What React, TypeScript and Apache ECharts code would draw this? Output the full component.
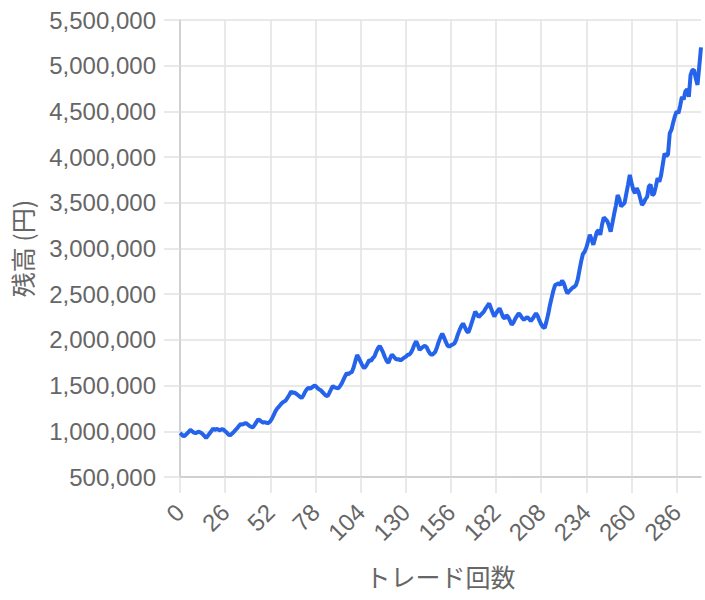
import React, { useEffect, useRef } from "react";
import * as echarts from "echarts";

// Balance after each trade, in thousands of yen (index 0..300)
const UNIT = 1000;
const balanceK: number[] = [
  980, 965, 945, 955, 975, 995, 1015, 1000, 985, 980, 990,
  995, 985, 970, 950, 928, 950, 975, 1000, 1030, 1015,
  1025, 1020, 1010, 1022, 1020, 1000, 985, 962, 958, 975,
  995, 1015, 1035, 1060, 1080, 1072, 1085, 1088, 1075, 1060,
  1048, 1045, 1070, 1100, 1130, 1120, 1105, 1095, 1100, 1090,
  1092, 1110, 1140, 1180, 1220, 1250, 1270, 1295, 1315, 1325,
  1340, 1370, 1400, 1435, 1420, 1425, 1410, 1395, 1380, 1365,
  1390, 1430, 1460, 1475, 1465, 1480, 1495, 1500, 1475, 1460,
  1450, 1430, 1410, 1390, 1385, 1420, 1460, 1495, 1480, 1475,
  1470, 1490, 1520, 1560, 1600, 1635, 1625, 1640, 1650, 1700,
  1770, 1835, 1800, 1760, 1720, 1690, 1710, 1745, 1780, 1770,
  1800, 1820, 1870, 1910, 1935, 1900, 1860, 1810, 1770, 1750,
  1800, 1840, 1820, 1795, 1785, 1790, 1775, 1790, 1805, 1815,
  1835, 1840, 1860, 1900, 1950, 1985, 1940, 1890, 1910, 1925,
  1935, 1920, 1880, 1850, 1835, 1850, 1870, 1920, 1980, 2030,
  2070, 2030, 1980, 1940, 1925, 1940, 1950, 1960, 2000, 2060,
  2110, 2150, 2180, 2140, 2100, 2080, 2130, 2190, 2250, 2310,
  2280, 2250, 2270, 2290, 2310, 2345, 2370, 2400, 2350, 2300,
  2255, 2290, 2320, 2345, 2300, 2250, 2235, 2270, 2250, 2210,
  2165, 2190, 2230, 2260, 2290, 2270, 2240, 2220, 2235, 2250,
  2230, 2205, 2230, 2260, 2290, 2260, 2210, 2170, 2140, 2130,
  2200, 2280, 2380, 2460, 2540, 2600, 2610, 2620, 2600, 2650,
  2620, 2560, 2510, 2530, 2550, 2570, 2580, 2600, 2660, 2760,
  2860, 2940, 2965, 3010, 3080, 3150, 3100, 3040, 3110, 3180,
  3200, 3150, 3260, 3340, 3320, 3300, 3250, 3185, 3280, 3380,
  3470, 3585, 3540, 3460, 3480, 3500, 3600, 3700, 3805, 3720,
  3640, 3605, 3660, 3620, 3550, 3475, 3500, 3540, 3565, 3680,
  3700, 3580, 3600, 3680, 3770, 3730, 3800, 3920, 4040, 4010,
  4030, 4260, 4300, 4380, 4450, 4500, 4480, 4560, 4660, 4630,
  4720, 4740, 4660, 4900, 4950, 4955, 4860, 4790, 4990, 5200,
];

const tradeLabels: string[] = balanceK.map((_, i) => String(i));
const balance: number[] = balanceK.map((v) => v * UNIT);

const Y_MIN = 500000;
const Y_MAX = 5500000;
const Y_STEP = 500000;
const X_LABEL_STEP = 26;

const FONT = "'Liberation Sans', Arial, Helvetica, sans-serif";
const CJK = "'Noto Sans CJK JP', 'Liberation Sans', sans-serif";
const TEXT = "#666666";
const GRID = "#e2e2e2";
const AXIS = "#c8c8c8";

export default function App() {
  const ref = useRef<HTMLDivElement>(null);
  useEffect(() => {
    if (!ref.current) return;
    const chart = echarts.init(ref.current, null, { renderer: "svg" });
    chart.setOption({
      animation: false,
      grid: { left: 180, right: 4, top: 20, bottom: 123, containLabel: false },
      xAxis: {
        type: "category",
        data: tradeLabels,
        boundaryGap: false,
        name: "トレード回数",
        nameLocation: "middle",
        nameGap: 86,
        nameTextStyle: { color: TEXT, fontSize: 25, fontFamily: CJK },
        axisLine: { show: true, lineStyle: { color: AXIS, width: 1.5 } },
        axisTick: { show: true, interval: X_LABEL_STEP - 1, length: 16, lineStyle: { color: GRID, width: 1.5 } },
        axisLabel: {
          interval: X_LABEL_STEP - 1,
          rotate: 45,
          margin: 31,
          color: TEXT,
          fontSize: 24,
          fontFamily: FONT,
        },
        splitLine: { show: true, interval: X_LABEL_STEP - 1, lineStyle: { color: GRID, width: 1.5 } },
      },
      yAxis: {
        type: "value",
        min: Y_MIN,
        max: Y_MAX,
        interval: Y_STEP,
        name: "残高 (円)",
        nameLocation: "middle",
        nameGap: 146,
        nameRotate: 90,
        nameTextStyle: { color: TEXT, fontSize: 25, fontFamily: CJK },
        axisLine: { show: true, lineStyle: { color: AXIS, width: 1.5 } },
        axisTick: { show: true, length: 16, lineStyle: { color: GRID, width: 1.5 } },
        axisLabel: {
          margin: 24,
          color: TEXT,
          fontSize: 24,
          fontFamily: FONT,
          formatter: (v: number) => v.toLocaleString("en-US"),
        },
        splitLine: { show: true, lineStyle: { color: GRID, width: 1.5 } },
      },
      series: [
        {
          type: "line",
          data: balance,
          showSymbol: false,
          symbol: "none",
          lineStyle: { color: "#2563eb", width: 4 },
          itemStyle: { color: "#2563eb" },
        },
      ],
    });
    return () => chart.dispose();
  }, []);
  return (
    <div
      ref={ref}
      style={{ position: "fixed", left: 0, top: 0, width: 705, height: 600, background: "#fff" }}
    />
  );
}
